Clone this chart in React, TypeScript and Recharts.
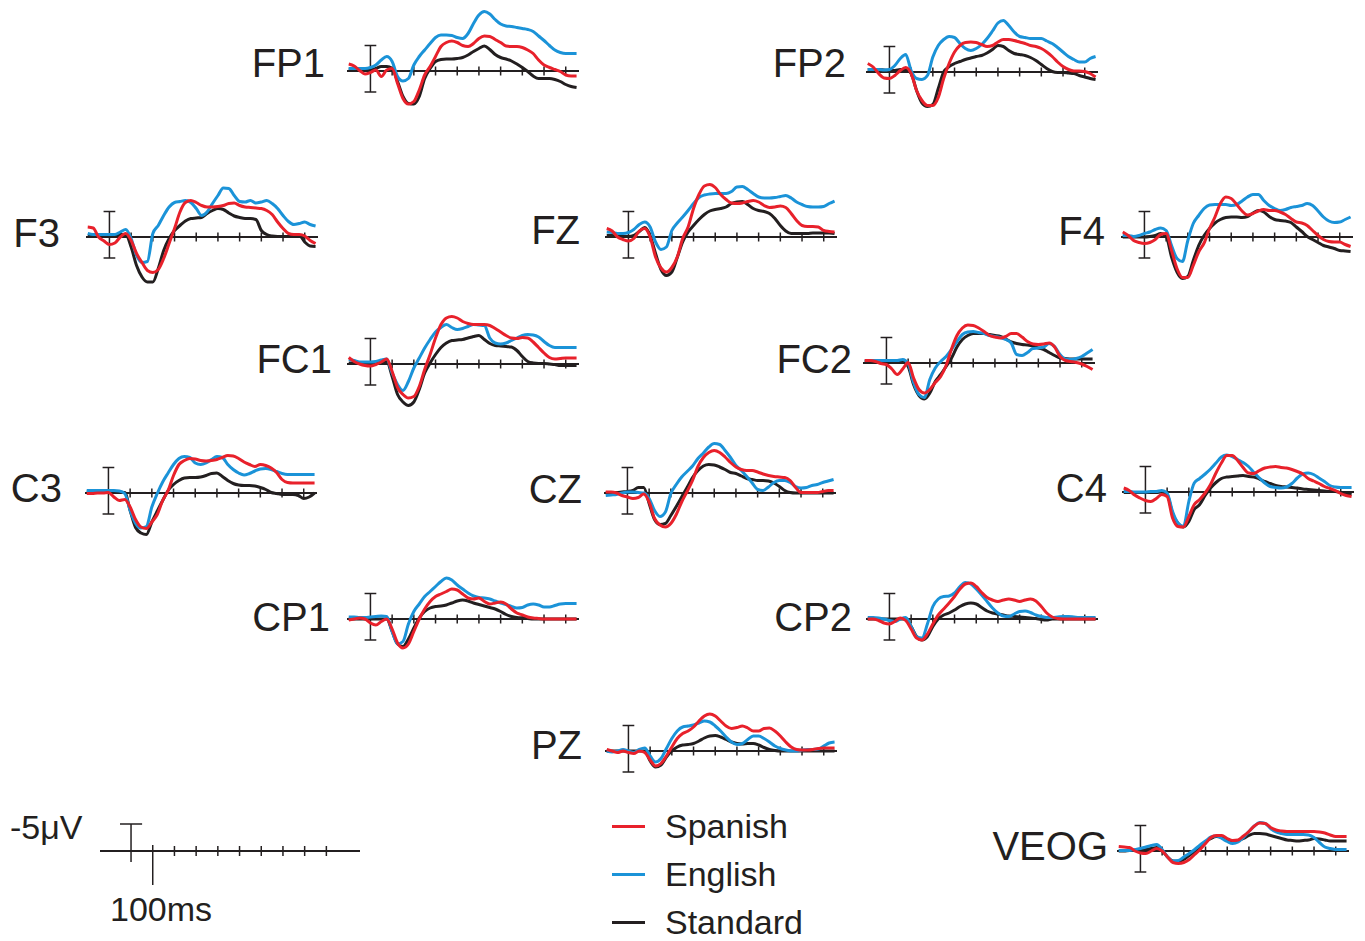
import { LineChart, Line, XAxis, YAxis, ReferenceLine } from "recharts";

// sample times (ms), shared by every trace
const TIMES = [
  -100, -75, -50, -25, 0, 25, 50, 75, 100, 125, 150, 175, 200, 225, 250, 275, 300, 325, 350, 375, 400,
  425, 450, 475, 500, 525, 550, 575, 600, 625, 650, 675, 700, 725, 750, 775, 800, 825, 850, 875, 900, 925, 950,
];

const TIME_TICKS = [100, 200, 300, 400, 500, 600, 700, 800, 900];

// amplitudes in µV (negative plotted up)
const fp1Spanish = [-1.4, -1.0, -0.1, 0.6, 0.3, -0.2, 1.1, -0.2, -0.5, 2.5, 5.5, 6.6, 6.1, 3.8, 0.8, -0.9, -2.9, -4.9, -5.7, -6.0, -5.7, -5.1, -4.9, -5.5, -6.5, -7.0, -6.9, -6.3, -5.7, -5.0, -4.9, -4.9, -4.7, -4.2, -3.5, -2.2, -1.2, -0.7, -0.3, 0.1, 0.8, 1.0, 1.0];
const fp1English = [-0.5, -0.5, -0.5, -0.5, -0.7, -1.2, -2.2, -2.9, -1.9, 1.1, 2.0, 1.5, -1.2, -2.9, -4.2, -5.5, -6.7, -7.2, -7.2, -7.1, -6.7, -6.5, -7.5, -9.5, -11.2, -11.9, -11.4, -10.3, -9.4, -9.0, -8.9, -8.7, -8.5, -8.3, -7.9, -7.0, -6.1, -5.1, -4.2, -3.7, -3.5, -3.5, -3.5];
const fp1Standard = [-0.4, -0.4, -0.4, -0.3, -0.2, -0.5, -0.9, -0.9, -0.5, 2.1, 5.1, 6.5, 6.6, 5.1, 1.5, -0.5, -1.9, -2.3, -2.4, -2.4, -2.5, -2.7, -3.2, -3.9, -4.5, -5.0, -4.3, -3.3, -2.7, -2.4, -2.0, -1.4, -0.7, 0.1, 1.0, 1.5, 1.5, 1.5, 1.7, 2.1, 2.7, 3.1, 3.3];

const fp2Spanish = [-1.7, -1.0, 0.3, 1.2, 1.3, 0.7, -0.3, -0.9, 0.3, 3.7, 5.7, 6.7, 6.7, 5.1, 1.3, -1.7, -4.0, -5.3, -5.9, -6.0, -5.9, -5.5, -5.1, -5.3, -6.0, -6.5, -6.5, -6.3, -6.0, -5.7, -5.3, -5.1, -4.7, -4.0, -3.1, -2.0, -1.1, -0.5, -0.2, -0.2, -0.1, 0.3, 1.0];
const fp2English = [-0.5, -0.5, -0.5, -0.4, -0.5, -1.3, -2.7, -3.5, -0.3, 1.3, 1.5, 0.7, -3.0, -5.3, -6.5, -7.1, -6.9, -5.7, -4.7, -4.3, -4.7, -5.5, -6.7, -8.2, -9.8, -10.3, -9.3, -8.0, -7.1, -6.9, -6.7, -6.7, -6.7, -6.2, -5.7, -4.9, -4.0, -3.1, -2.5, -2.0, -2.0, -2.7, -3.1];
const fp2Standard = [-0.5, -0.5, -0.5, -0.4, -0.3, -0.3, -0.5, -0.5, 0.3, 3.7, 6.2, 6.9, 6.5, 3.3, 0.0, -1.1, -1.7, -2.1, -2.5, -2.8, -3.1, -3.3, -3.8, -4.5, -5.3, -5.1, -4.3, -3.7, -3.5, -3.3, -2.9, -2.3, -1.5, -0.7, -0.1, 0.1, 0.1, 0.2, 0.3, 0.7, 1.0, 1.3, 1.5];

const f3Spanish = [-2.0, -1.8, 0.0, 0.8, 1.5, 1.2, 0.0, -0.7, 0.7, 3.3, 5.1, 6.7, 7.1, 6.5, 4.3, 1.3, -1.7, -5.0, -6.9, -7.3, -6.9, -6.3, -6.0, -6.0, -6.1, -6.3, -6.7, -6.8, -6.3, -6.0, -5.9, -5.8, -5.7, -5.3, -4.5, -3.0, -1.7, -0.7, -0.5, -0.5, -0.2, 0.7, 1.3];
const f3English = [-0.7, -0.5, -0.5, -0.5, -0.5, -0.5, -1.0, -1.5, 0.3, 3.7, 5.1, 4.9, -0.7, -2.3, -4.3, -6.0, -6.9, -7.1, -7.3, -6.9, -5.7, -4.3, -5.0, -6.7, -8.3, -9.8, -9.7, -8.3, -7.1, -7.0, -7.3, -6.8, -7.0, -7.3, -6.7, -5.7, -4.3, -3.1, -2.5, -2.7, -3.0, -2.5, -2.2];
const f3Standard = [-0.3, -0.2, -0.2, -0.2, -0.2, -0.3, -0.5, -0.5, 2.0, 5.7, 8.0, 9.0, 9.0, 6.3, 2.7, 0.3, -1.3, -2.3, -3.2, -3.7, -3.8, -3.9, -4.7, -5.3, -5.7, -5.5, -4.8, -4.2, -3.9, -3.7, -3.7, -3.5, -1.3, -0.5, -0.2, -0.1, -0.1, -0.1, -0.2, -0.3, 1.0, 1.8, 1.9];

const fzSpanish = [-1.7, -1.2, 0.0, 0.5, 0.8, 0.3, -1.2, -1.7, 0.0, 4.0, 6.2, 7.0, 6.1, 4.0, 0.3, -2.0, -5.7, -8.5, -10.2, -10.5, -9.9, -8.5, -7.5, -6.8, -6.7, -6.8, -7.1, -7.3, -7.0, -6.3, -5.9, -6.0, -6.2, -5.9, -4.7, -3.3, -2.3, -2.1, -2.1, -2.0, -1.3, -1.1, -1.0];
const fzEnglish = [-1.0, -0.9, -0.7, -0.7, -0.9, -1.5, -2.5, -3.0, -2.0, 1.0, 2.5, 2.0, -1.3, -2.8, -4.0, -5.3, -6.7, -7.9, -8.4, -8.6, -8.7, -8.7, -8.7, -9.1, -10.0, -10.1, -9.5, -8.7, -8.0, -7.8, -7.8, -7.9, -8.1, -8.3, -7.8, -7.0, -6.5, -6.1, -6.0, -6.0, -6.1, -6.7, -7.2];
const fzStandard = [-0.3, -0.3, -0.2, -0.1, -0.1, -0.3, -1.1, -1.9, -0.3, 3.3, 6.5, 7.7, 7.0, 4.1, 1.0, -1.0, -2.3, -3.5, -4.5, -5.2, -5.5, -5.7, -6.0, -6.7, -7.0, -7.1, -6.5, -5.7, -5.3, -5.1, -4.7, -3.7, -2.3, -1.2, -0.7, -0.7, -0.7, -0.7, -0.8, -0.8, -0.8, -0.8, -0.7];

const f4Spanish = [-1.0, -0.3, 0.7, 1.1, 1.3, 1.1, 0.5, -0.5, -0.7, 2.7, 6.3, 8.1, 8.1, 5.7, 3.0, 1.2, -1.7, -4.0, -6.7, -8.0, -7.7, -6.5, -5.2, -4.4, -4.7, -5.2, -5.5, -5.3, -5.3, -5.0, -4.5, -3.7, -3.0, -2.8, -2.3, -1.3, -0.3, 0.5, 0.9, 1.0, 1.0, 1.5, 1.9];
const f4English = [-0.3, -0.3, -0.1, -0.3, -0.7, -1.0, -1.5, -1.8, -1.3, 1.7, 4.3, 4.9, 0.7, -2.7, -4.3, -5.7, -6.4, -6.5, -6.5, -6.5, -6.3, -6.5, -7.2, -8.0, -8.5, -8.5, -7.3, -6.3, -5.7, -5.3, -5.5, -5.9, -6.1, -6.3, -6.7, -6.3, -5.2, -4.0, -3.2, -2.9, -3.0, -3.5, -4.0];
const f4Standard = [0.0, 0.0, 0.0, 0.0, 0.0, -0.1, -0.3, -0.7, -0.1, 4.0, 7.0, 8.3, 7.9, 4.7, 1.7, -0.3, -1.7, -2.8, -3.5, -3.9, -4.0, -4.0, -3.9, -4.1, -4.8, -5.3, -5.0, -4.1, -3.5, -3.3, -3.2, -2.9, -2.0, -1.1, -0.1, 0.5, 1.1, 1.7, 2.0, 2.3, 2.7, 2.8, 2.9];

const fc1Spanish = [-1.3, -0.5, 0.0, 0.3, 0.4, 0.1, -0.4, -1.0, 1.5, 4.7, 6.1, 6.8, 6.5, 4.5, 1.1, -1.9, -5.2, -7.9, -9.2, -9.5, -9.2, -8.5, -8.1, -7.9, -7.9, -7.9, -7.7, -7.1, -6.4, -5.7, -5.2, -5.1, -5.3, -5.2, -4.4, -3.3, -2.2, -1.3, -1.0, -1.1, -1.2, -1.2, -1.2];
const fc1English = [-0.9, -0.7, -0.4, -0.4, -0.4, -0.5, -0.8, -1.0, 1.8, 4.1, 5.3, 3.5, 0.8, -1.2, -3.2, -4.9, -6.4, -7.3, -7.9, -7.3, -6.9, -7.1, -7.5, -7.9, -7.8, -7.7, -5.2, -4.2, -4.0, -4.2, -4.7, -5.2, -5.7, -5.9, -5.8, -5.4, -4.5, -3.7, -3.3, -3.3, -3.3, -3.3, -3.3];
const fc1Standard = [-0.2, -0.2, -0.2, -0.1, -0.1, -0.2, -0.4, -0.5, 2.5, 6.1, 7.6, 8.3, 7.6, 5.1, 1.8, -0.2, -1.9, -3.3, -4.2, -4.7, -4.8, -4.9, -5.2, -5.5, -5.7, -4.9, -4.1, -3.7, -3.6, -3.5, -3.4, -2.7, -1.5, -0.5, -0.2, -0.1, -0.1, 0.0, 0.1, 0.3, 0.3, 0.3, 0.3];

const fc2Spanish = [-0.5, -0.5, -0.3, 0.1, 0.3, 1.2, 2.3, 1.2, -0.1, 3.0, 5.3, 6.0, 5.3, 3.9, 2.7, 0.5, -2.8, -5.5, -7.0, -7.6, -7.5, -7.0, -6.3, -5.5, -5.2, -5.0, -5.3, -5.9, -5.9, -5.2, -4.3, -3.8, -3.7, -3.8, -4.0, -3.2, -1.3, -0.5, -0.3, -0.1, 0.2, 0.7, 1.3];
const fc2English = [-0.5, -0.5, -0.5, -0.5, -0.5, -0.5, -0.5, -0.7, 0.1, 3.9, 6.3, 6.9, 3.3, 1.0, -0.3, -1.3, -2.7, -4.3, -5.7, -6.2, -6.3, -6.1, -5.9, -5.5, -5.3, -5.1, -4.7, -4.0, -1.7, -1.5, -2.1, -2.9, -3.0, -3.2, -3.9, -3.3, -1.7, -0.8, -0.7, -0.9, -1.3, -2.0, -2.7];
const fc2Standard = [-0.3, -0.3, -0.3, -0.3, -0.3, -0.3, -0.3, -0.3, 0.7, 4.3, 6.5, 7.2, 6.0, 3.7, 2.3, 0.7, -1.0, -3.2, -4.7, -5.5, -5.9, -5.9, -5.9, -5.7, -5.5, -5.3, -4.8, -4.2, -3.9, -3.7, -3.6, -3.4, -3.0, -2.7, -2.1, -1.5, -1.0, -0.9, -0.8, -0.8, -0.8, -0.8, -0.8];

const c3Spanish = [0.1, 0.1, 0.0, 0.0, -0.1, 0.8, 1.5, 1.3, 2.8, 5.3, 6.8, 7.1, 5.8, 4.3, 1.5, -0.5, -3.5, -5.7, -6.5, -6.9, -6.8, -6.5, -6.4, -6.5, -6.7, -7.1, -7.5, -7.4, -6.9, -6.2, -5.7, -5.3, -5.7, -5.5, -5.0, -4.1, -2.7, -2.1, -2.0, -2.0, -2.0, -2.0, -2.0];
const c3English = [-0.5, -0.5, -0.5, -0.5, -0.5, -0.5, -0.4, 0.1, 3.5, 6.1, 7.0, 6.7, 2.8, 0.1, -2.2, -4.0, -5.7, -6.9, -7.3, -7.1, -6.0, -5.7, -6.0, -6.7, -7.3, -7.1, -5.7, -4.7, -4.0, -3.6, -3.9, -4.4, -4.8, -4.9, -4.7, -4.3, -3.9, -3.7, -3.7, -3.7, -3.7, -3.7, -3.7];
const c3Standard = [-0.2, -0.2, -0.2, -0.2, -0.2, -0.2, -0.1, -0.1, 3.5, 6.9, 8.0, 8.3, 5.8, 3.6, 1.5, -0.5, -1.7, -2.5, -3.0, -3.1, -3.1, -3.2, -3.5, -3.9, -4.0, -3.3, -2.5, -1.9, -1.6, -1.5, -1.5, -1.4, -1.1, -0.7, -0.1, 0.1, 0.3, 0.3, 0.3, 0.5, 1.1, 0.8, 0.0];

const czSpanish = [-0.2, -0.2, 0.0, 0.5, 0.8, 1.1, 0.9, 0.2, 1.8, 5.1, 6.4, 6.8, 6.1, 4.3, 1.8, -0.3, -2.5, -5.3, -7.1, -8.1, -8.5, -8.1, -7.2, -6.1, -5.2, -4.7, -4.5, -4.5, -4.2, -3.8, -3.5, -3.3, -3.2, -3.1, -2.5, -1.1, -0.1, -0.1, -0.1, -0.1, -0.3, -0.5, -0.5];
const czEnglish = [0.5, 0.4, 0.3, 0.0, -0.2, -0.2, -0.1, 0.0, 1.1, 3.5, 4.7, 3.8, 0.1, -1.7, -3.2, -4.3, -5.4, -6.9, -8.0, -9.2, -9.9, -9.7, -8.5, -7.1, -5.5, -4.5, -3.3, -2.0, -0.7, -0.5, -1.2, -2.1, -2.5, -2.5, -2.1, -1.3, -1.0, -1.1, -1.5, -1.7, -2.1, -2.4, -2.7];
const czStandard = [0.0, -0.1, -0.1, -0.2, -0.3, -0.5, -1.1, -1.1, 2.1, 5.3, 6.3, 6.1, 4.5, 2.7, 0.8, -1.1, -3.1, -4.5, -5.4, -5.7, -5.6, -5.2, -4.7, -4.1, -3.9, -3.4, -2.9, -2.7, -2.5, -2.5, -2.4, -2.0, -1.3, -0.5, -0.1, 0.0, 0.0, 0.0, 0.0, 0.0, 0.0, 0.0, 0.0];

const c4Spanish = [-0.8, -0.3, 0.6, 1.2, 1.7, 1.9, 1.3, 0.5, 0.9, 5.2, 6.9, 7.0, 4.9, 2.5, 1.5, 0.2, -1.5, -3.8, -5.8, -7.3, -7.3, -6.3, -4.9, -3.8, -3.7, -4.3, -4.8, -5.0, -5.1, -4.9, -4.8, -4.5, -4.1, -3.6, -2.7, -2.2, -1.7, -1.1, -0.7, -0.3, 0.3, 0.7, 0.9];
const c4English = [-0.1, -0.1, 0.0, 0.0, 0.0, -0.1, -0.1, -0.3, 0.2, 3.9, 6.2, 6.9, 1.9, -1.8, -2.7, -3.6, -4.6, -5.8, -7.0, -7.4, -7.1, -6.5, -5.9, -5.1, -3.9, -2.8, -1.8, -1.1, -0.9, -0.8, -1.0, -1.7, -2.8, -3.6, -3.8, -3.5, -2.8, -2.1, -1.3, -1.0, -0.9, -0.9, -0.9];
const c4Standard = [0.1, 0.1, 0.1, 0.1, 0.1, 0.1, 0.1, 0.0, 0.5, 4.3, 6.3, 7.0, 5.9, 3.5, 2.5, 0.7, -0.8, -1.9, -2.7, -3.0, -3.1, -3.2, -3.3, -3.1, -3.0, -2.6, -2.1, -1.7, -1.3, -1.1, -1.0, -0.9, -0.8, -0.6, -0.5, -0.4, -0.3, -0.2, -0.1, -0.1, 0.1, 0.3, 0.5];

const cp1Spanish = [0.2, 0.0, -0.2, 0.0, 0.8, 1.2, 0.5, 0.0, 2.0, 4.8, 5.8, 5.0, 2.5, 0.0, -2.0, -3.5, -4.5, -5.0, -5.5, -6.0, -5.8, -5.0, -4.2, -4.0, -4.2, -3.5, -3.0, -3.2, -3.4, -3.0, -2.0, -1.2, -0.8, -0.4, -0.2, -0.1, 0.0, 0.0, 0.0, 0.0, 0.0, 0.0, 0.0];
const cp1English = [-0.4, -0.4, -0.3, -0.3, -0.4, -0.5, -0.6, -0.5, 2.5, 5.0, 4.5, 1.0, -1.5, -3.0, -4.5, -5.5, -6.5, -7.5, -8.2, -7.8, -6.8, -6.0, -5.2, -4.6, -4.3, -4.2, -4.0, -3.6, -3.2, -2.9, -2.5, -2.2, -2.3, -2.8, -3.0, -2.8, -2.4, -2.4, -2.7, -3.0, -3.1, -3.1, -3.1];
const cp1Standard = [0.0, 0.0, 0.0, 0.0, 0.0, 0.0, 0.0, 0.0, 2.5, 5.0, 5.5, 4.0, 1.8, -0.2, -1.5, -2.2, -2.5, -2.6, -2.8, -3.2, -3.6, -3.8, -3.6, -3.2, -2.9, -2.6, -2.3, -2.0, -1.5, -0.9, -0.5, -0.3, -0.2, -0.1, 0.0, 0.0, 0.0, 0.0, 0.0, 0.0, 0.0, 0.0, 0.0];

const cp2Spanish = [0.0, 0.0, 0.3, 0.8, 1.0, 0.5, -0.2, 0.3, 2.0, 3.8, 4.2, 3.0, 1.0, -0.8, -2.0, -3.2, -4.5, -6.0, -7.0, -7.2, -6.5, -5.3, -4.3, -3.8, -3.5, -3.8, -4.0, -3.8, -3.5, -3.8, -4.0, -3.6, -2.5, -1.2, -0.4, -0.1, 0.0, 0.0, 0.0, 0.0, 0.0, 0.0, 0.0];
const cp2English = [-0.3, -0.3, -0.2, 0.0, 0.3, 0.5, 0.0, -0.3, 1.5, 3.5, 3.8, 1.0, -2.5, -4.0, -4.5, -4.6, -5.2, -6.5, -7.3, -7.0, -6.0, -4.8, -3.5, -2.2, -1.2, -0.6, -0.5, -1.0, -1.5, -1.6, -1.3, -0.8, -0.5, -0.3, -0.3, -0.4, -0.5, -0.5, -0.4, -0.3, -0.3, -0.3, -0.3];
const cp2Standard = [0.0, 0.0, 0.0, 0.0, 0.0, 0.0, 0.0, 0.0, 1.5, 3.5, 4.2, 3.5, 1.5, 0.0, -0.8, -1.2, -1.8, -2.5, -3.0, -3.2, -3.0, -2.3, -1.6, -1.2, -1.0, -0.8, -0.6, -0.5, -0.4, -0.3, -0.2, -0.1, 0.1, 0.2, 0.0, 0.0, 0.0, 0.0, 0.0, 0.0, 0.0, 0.0, 0.0];

const pzSpanish = [-0.3, 0.0, 0.3, 0.0, 0.3, 0.5, 0.0, 0.3, 1.8, 3.0, 2.5, 1.0, -0.8, -2.5, -3.5, -4.0, -4.8, -6.0, -7.0, -7.4, -7.0, -6.0, -5.0, -4.5, -4.7, -5.0, -4.6, -4.0, -4.0, -4.5, -4.6, -4.0, -3.0, -1.8, -0.8, -0.3, -0.2, -0.2, -0.3, -0.5, -0.6, -0.6, -0.6];
const pzEnglish = [0.0, 0.2, 0.0, -0.3, 0.0, 0.3, -0.3, -0.6, 1.0, 2.2, 1.5, -0.5, -2.5, -4.0, -4.8, -5.0, -5.2, -5.6, -6.0, -5.8, -5.0, -4.0, -2.8, -1.8, -1.3, -1.5, -2.3, -3.0, -3.0, -2.5, -1.8, -1.0, -0.5, -0.2, 0.0, 0.0, -0.2, -0.3, -0.3, -0.4, -1.0, -1.6, -1.8];
const pzStandard = [0.0, 0.0, 0.0, 0.0, 0.0, 0.0, 0.0, 0.0, 2.0, 3.2, 2.8, 1.2, 0.0, -0.8, -1.2, -1.3, -1.5, -2.0, -2.6, -3.0, -3.1, -2.8, -2.3, -1.8, -1.5, -1.4, -1.5, -1.5, -1.2, -0.7, -0.3, -0.1, 0.0, 0.0, 0.0, 0.0, 0.0, 0.0, 0.0, 0.0, 0.0, 0.0, 0.0];

const veogSpanish = [-0.9, -0.8, -0.7, 0.0, 0.4, 0.5, 0.0, -0.5, 0.0, 1.2, 2.3, 2.5, 2.3, 1.7, 0.7, -0.3, -1.5, -2.7, -3.1, -3.1, -2.5, -2.1, -2.2, -3.0, -3.9, -5.0, -5.6, -5.5, -4.7, -4.2, -4.0, -3.9, -3.9, -3.9, -3.9, -3.9, -3.9, -3.8, -3.6, -3.2, -2.9, -2.9, -2.9];
const veogEnglish = [-0.1, -0.1, -0.1, -0.3, -0.5, -0.8, -1.1, -1.3, -0.3, 1.2, 2.0, 1.9, 1.2, 0.5, -0.3, -1.2, -2.0, -2.8, -3.0, -2.5, -1.9, -1.5, -1.8, -2.7, -3.9, -5.0, -5.7, -5.5, -4.5, -3.8, -3.5, -3.3, -3.3, -3.3, -3.3, -3.2, -2.7, -1.7, -0.8, -0.5, -0.3, -0.3, -0.3];
const veogStandard = [0.0, 0.0, -0.1, -0.1, -0.1, -0.3, -0.5, -0.7, -0.1, 1.2, 2.0, 2.1, 1.7, 0.9, 0.0, -0.9, -1.8, -2.5, -2.9, -2.7, -2.2, -1.9, -2.1, -2.5, -3.1, -3.5, -3.5, -3.4, -3.1, -2.8, -2.5, -2.2, -2.1, -2.0, -2.1, -2.2, -2.5, -2.4, -2.2, -2.0, -2.0, -2.0, -2.0];

const RED = "#e8212b";
const BLUE = "#1b93d8";
const BLACK = "#231f20";

const PX_PER_MS = 0.217;
const PX_PER_UV = 5;
const T_MIN = -108;
const T_MAX = 965;
const V_MIN = -13;
const V_MAX = 10.6;

const FONT = '"Liberation Sans", Arial, Helvetica, sans-serif';

const panels = [
  { name: "FP1", bar: 370, axis: 71, labelRight: 325, labelY: 62, s: fp1Spanish, e: fp1English, k: fp1Standard },
  { name: "FP2", bar: 889, axis: 72, labelRight: 846, labelY: 62, s: fp2Spanish, e: fp2English, k: fp2Standard },
  { name: "F3", bar: 109, axis: 237, labelRight: 60, labelY: 232, s: f3Spanish, e: f3English, k: f3Standard },
  { name: "FZ", bar: 628, axis: 237, labelRight: 580, labelY: 229, s: fzSpanish, e: fzEnglish, k: fzStandard },
  { name: "F4", bar: 1144, axis: 237, labelRight: 1105, labelY: 230, s: f4Spanish, e: f4English, k: f4Standard },
  { name: "FC1", bar: 370, axis: 364, labelRight: 332, labelY: 358, s: fc1Spanish, e: fc1English, k: fc1Standard },
  { name: "FC2", bar: 886, axis: 363, labelRight: 852, labelY: 358, s: fc2Spanish, e: fc2English, k: fc2Standard },
  { name: "C3", bar: 108, axis: 493, labelRight: 62, labelY: 487, s: c3Spanish, e: c3English, k: c3Standard },
  { name: "CZ", bar: 627, axis: 493, labelRight: 582, labelY: 488, s: czSpanish, e: czEnglish, k: czStandard },
  { name: "C4", bar: 1145, axis: 492, labelRight: 1107, labelY: 487, s: c4Spanish, e: c4English, k: c4Standard },
  { name: "CP1", bar: 370, axis: 619, labelRight: 330, labelY: 616, s: cp1Spanish, e: cp1English, k: cp1Standard },
  { name: "CP2", bar: 889, axis: 619, labelRight: 852, labelY: 616, s: cp2Spanish, e: cp2English, k: cp2Standard },
  { name: "PZ", bar: 628, axis: 751, labelRight: 582, labelY: 744, s: pzSpanish, e: pzEnglish, k: pzStandard },
  { name: "VEOG", bar: 1140, axis: 851, labelRight: 1108, labelY: 845, s: veogSpanish, e: veogEnglish, k: veogStandard },
];

const legend = [
  { label: "Spanish", color: RED, y: 826 },
  { label: "English", color: BLUE, y: 874 },
  { label: "Standard", color: BLACK, y: 922 },
];

type PanelProps = {
  name: string;
  bar: number;
  axis: number;
  labelRight: number;
  labelY: number;
  s: number[];
  e: number[];
  k: number[];
};

const Panel = ({ name, bar, axis, labelRight, labelY, s, e, k }: PanelProps) => {
  const rows = TIMES.map((t, i) => ({ t, spanish: s[i], english: e[i], standard: k[i] }));
  const width = (T_MAX - T_MIN) * PX_PER_MS;
  const height = (V_MAX - V_MIN) * PX_PER_UV;
  const left = bar + T_MIN * PX_PER_MS;
  const top = axis + V_MIN * PX_PER_UV;

  return (
    <>
      <div
        style={{
          position: "absolute",
          right: 1365 - labelRight,
          top: labelY - 19.5,
          fontSize: 40,
          lineHeight: "40px",
          color: BLACK,
          whiteSpace: "nowrap",
        }}
      >
        {name}
      </div>
      <div style={{ position: "absolute", left, top }}>
        <LineChart width={width} height={height} data={rows} margin={{ top: 0, right: 0, bottom: 0, left: 0 }}>
          <XAxis type="number" dataKey="t" domain={[T_MIN, T_MAX]} hide allowDataOverflow />
          <YAxis type="number" domain={[V_MIN, V_MAX]} reversed hide allowDataOverflow />
          <ReferenceLine y={0} stroke={BLACK} strokeWidth={2} />
          {TIME_TICKS.map((t) => (
            <ReferenceLine key={t} segment={[{ x: t, y: -0.9 }, { x: t, y: 0.9 }]} stroke={BLACK} strokeWidth={1.5} />
          ))}
          {/* amplitude bar at stimulus onset */}
          <ReferenceLine segment={[{ x: 0, y: -5.1 }, { x: 0, y: 4.2 }]} stroke={BLACK} strokeWidth={1.5} />
          <ReferenceLine segment={[{ x: -27, y: -5.1 }, { x: 27, y: -5.1 }]} stroke={BLACK} strokeWidth={1.5} />
          <ReferenceLine segment={[{ x: -27, y: 4.2 }, { x: 27, y: 4.2 }]} stroke={BLACK} strokeWidth={1.5} />
          <Line type="monotone" dataKey="standard" stroke={BLACK} strokeWidth={3} dot={false} activeDot={false} isAnimationActive={false} />
          <Line type="monotone" dataKey="english" stroke={BLUE} strokeWidth={3} dot={false} activeDot={false} isAnimationActive={false} />
          <Line type="monotone" dataKey="spanish" stroke={RED} strokeWidth={3} dot={false} activeDot={false} isAnimationActive={false} />
        </LineChart>
      </div>
    </>
  );
};

const ScaleBar = () => (
  <>
    <div style={{ position: "absolute", left: 10, top: 810, fontSize: 34, lineHeight: "34px", color: BLACK }}>-5μV</div>
    <div style={{ position: "absolute", left: 110, top: 892, fontSize: 34, lineHeight: "34px", color: BLACK }}>100ms</div>
    <div style={{ position: "absolute", left: 100, top: 821 }}>
      <LineChart width={260} height={67.5} data={[{ t: 0, v: 0 }]} margin={{ top: 0, right: 0, bottom: 0, left: 0 }}>
        <XAxis type="number" dataKey="t" domain={[-143, 1055]} hide allowDataOverflow />
        <YAxis type="number" dataKey="v" domain={[-6, 7.5]} reversed hide allowDataOverflow />
        <ReferenceLine y={0} stroke={BLACK} strokeWidth={2} />
        <ReferenceLine segment={[{ x: 0, y: -5.4 }, { x: 0, y: 2.2 }]} stroke={BLACK} strokeWidth={1.5} />
        <ReferenceLine segment={[{ x: -51, y: -5.4 }, { x: 51, y: -5.4 }]} stroke={BLACK} strokeWidth={1.5} />
        <ReferenceLine segment={[{ x: 100, y: -1.2 }, { x: 100, y: 6.8 }]} stroke={BLACK} strokeWidth={1.5} />
        {TIME_TICKS.slice(1).map((t) => (
          <ReferenceLine key={t} segment={[{ x: t, y: -1 }, { x: t, y: 1 }]} stroke={BLACK} strokeWidth={1.5} />
        ))}
      </LineChart>
    </div>
  </>
);

const App = () => {
  return (
    <div
      style={{
        position: "absolute",
        left: 0,
        top: 0,
        width: 1365,
        height: 941,
        overflow: "hidden",
        background: "#fff",
        fontFamily: FONT,
      }}
    >
      {panels.map((p) => (
        <Panel key={p.name} {...p} />
      ))}
      <ScaleBar />
      {legend.map((item) => (
        <div key={item.label}>
          <div style={{ position: "absolute", left: 612, top: item.y - 1.5, width: 33, height: 3, background: item.color }} />
          <div style={{ position: "absolute", left: 665, top: item.y - 17, fontSize: 34, lineHeight: "34px", color: BLACK }}>
            {item.label}
          </div>
        </div>
      ))}
    </div>
  );
};

export default App;
